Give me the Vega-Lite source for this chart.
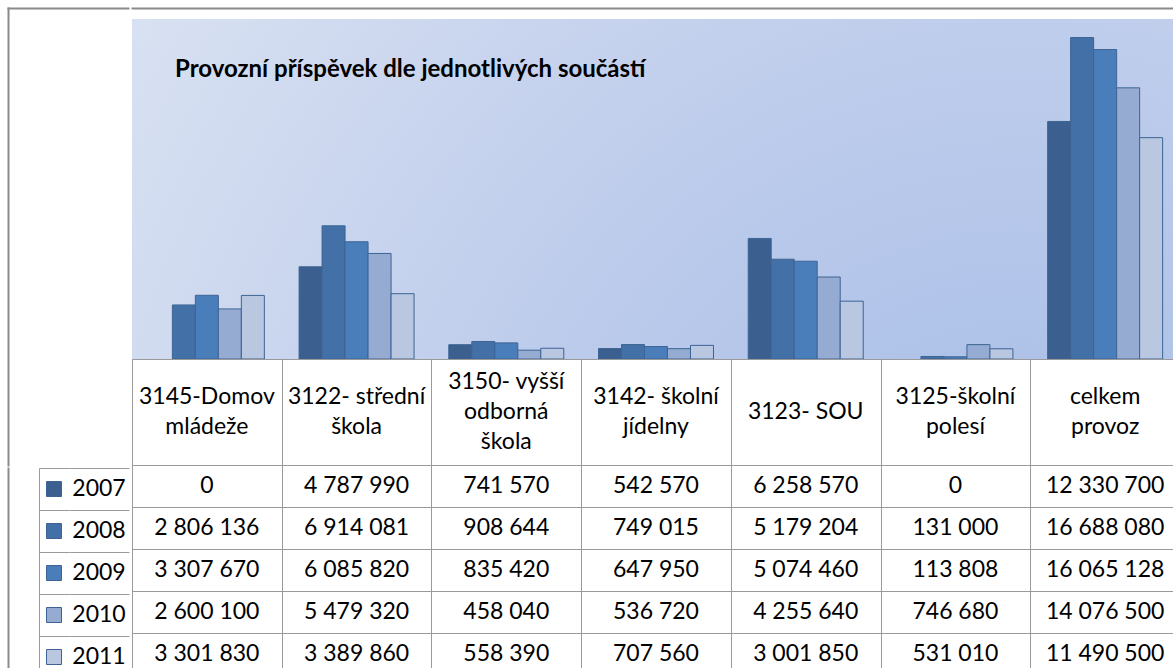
{
  "$schema": "https://vega.github.io/schema/vega-lite/v6.json",
  "padding": {"left": 5, "top": 8, "right": 0, "bottom": 0},
  "background": "white",
  "config": {
    "font": "Lato",
    "locale": {"number": {"decimal": ",", "thousands": " ", "grouping": [3], "currency": ["", " Kč"]}},
    "view": {"stroke": null},
    "concat": {"spacing": 0},
    "axis": {"gridColor": "#9a9a9a", "gridOpacity": 1, "gridWidth": 1, "domainColor": "#9a9a9a", "domainWidth": 1}
  },
  "datasets": {
    "vals": [
      {"cat": "3145-Domov mládeže", "year": "2007", "value": 0},
      {"cat": "3122- střední škola", "year": "2007", "value": 4787990},
      {"cat": "3150- vyšší odborná škola", "year": "2007", "value": 741570},
      {"cat": "3142- školní jídelny", "year": "2007", "value": 542570},
      {"cat": "3123- SOU", "year": "2007", "value": 6258570},
      {"cat": "3125-školní polesí", "year": "2007", "value": 0},
      {"cat": "celkem provoz", "year": "2007", "value": 12330700},
      {"cat": "3145-Domov mládeže", "year": "2008", "value": 2806136},
      {"cat": "3122- střední škola", "year": "2008", "value": 6914081},
      {"cat": "3150- vyšší odborná škola", "year": "2008", "value": 908644},
      {"cat": "3142- školní jídelny", "year": "2008", "value": 749015},
      {"cat": "3123- SOU", "year": "2008", "value": 5179204},
      {"cat": "3125-školní polesí", "year": "2008", "value": 131000},
      {"cat": "celkem provoz", "year": "2008", "value": 16688080},
      {"cat": "3145-Domov mládeže", "year": "2009", "value": 3307670},
      {"cat": "3122- střední škola", "year": "2009", "value": 6085820},
      {"cat": "3150- vyšší odborná škola", "year": "2009", "value": 835420},
      {"cat": "3142- školní jídelny", "year": "2009", "value": 647950},
      {"cat": "3123- SOU", "year": "2009", "value": 5074460},
      {"cat": "3125-školní polesí", "year": "2009", "value": 113808},
      {"cat": "celkem provoz", "year": "2009", "value": 16065128},
      {"cat": "3145-Domov mládeže", "year": "2010", "value": 2600100},
      {"cat": "3122- střední škola", "year": "2010", "value": 5479320},
      {"cat": "3150- vyšší odborná škola", "year": "2010", "value": 458040},
      {"cat": "3142- školní jídelny", "year": "2010", "value": 536720},
      {"cat": "3123- SOU", "year": "2010", "value": 4255640},
      {"cat": "3125-školní polesí", "year": "2010", "value": 746680},
      {"cat": "celkem provoz", "year": "2010", "value": 14076500},
      {"cat": "3145-Domov mládeže", "year": "2011", "value": 3301830},
      {"cat": "3122- střední škola", "year": "2011", "value": 3389860},
      {"cat": "3150- vyšší odborná škola", "year": "2011", "value": 558390},
      {"cat": "3142- školní jídelny", "year": "2011", "value": 707560},
      {"cat": "3123- SOU", "year": "2011", "value": 3001850},
      {"cat": "3125-školní polesí", "year": "2011", "value": 531010},
      {"cat": "celkem provoz", "year": "2011", "value": 11490500}
    ],
    "cats": [
      {"cat": "3145-Domov mládeže", "label": "\u200b|3145-Domov|\u200b|mládeže"},
      {"cat": "3122- střední škola", "label": "\u200b|3122- střední|\u200b|škola"},
      {"cat": "3150- vyšší odborná škola", "label": "3150- vyšší|\u200b|odborná|\u200b|škola"},
      {"cat": "3142- školní jídelny", "label": "\u200b|3142- školní|\u200b|jídelny"},
      {"cat": "3123- SOU", "label": "\u200b|\u200b|3123- SOU"},
      {"cat": "3125-školní polesí", "label": "\u200b|3125-školní|\u200b|polesí"},
      {"cat": "celkem provoz", "label": "\u200b|celkem|\u200b|provoz"}
    ],
    "years": [
      {"year": "2007"}, {"year": "2008"}, {"year": "2009"}, {"year": "2010"}, {"year": "2011"}
    ],
    "frame": [{"v": 0}]
  },
  "spacing": 0,
  "resolve": {"scale": {"x": "independent", "y": "independent"}},
  "hconcat": [
    {
      "spacing": 0,
      "resolve": {"scale": {"x": "independent", "y": "independent"}},
      "vconcat": [
        {
          "width": 120,
          "height": 457,
          "data": {"name": "frame"},
          "mark": {"type": "point", "opacity": 0},
          "encoding": {
            "x": {"field": "v", "type": "quantitative", "scale": {"domain": [0, 1]},
              "axis": {"orient": "top", "labels": false, "ticks": false, "grid": false, "domain": true, "domainColor": "#8a8a8a", "domainWidth": 2, "domainCap": "square", "title": null}},
            "y": {"field": "v", "type": "quantitative", "scale": {"domain": [0, 1]},
              "axis": {"orient": "left", "labels": false, "ticks": false, "grid": false, "domain": true, "domainColor": "#8a8a8a", "domainWidth": 2, "domainCap": "square", "title": null}}
          }
        },
        {
          "spacing": 0,
          "bounds": "flush",
          "resolve": {"scale": {"x": "independent", "y": "independent"}},
          "hconcat": [
            {
              "width": 31,
              "height": 210,
              "data": {"name": "years"},
              "mark": {"type": "point", "opacity": 0},
              "encoding": {
                "y": {"field": "year", "type": "nominal", "sort": ["2007", "2008", "2009", "2010", "2011"],
                  "scale": {"paddingInner": 0, "paddingOuter": 0},
                  "axis": {"grid": false, "labels": false, "ticks": false, "domain": true, "domainColor": "#8a8a8a", "domainWidth": 2, "domainCap": "square", "title": null}}
              }
            },
            {
              "width": 30,
              "height": 210,
              "data": {"name": "years"},
              "mark": {"type": "point", "shape": "square", "filled": true, "size": 225, "stroke": "#3d6494", "strokeWidth": 1, "opacity": 1},
              "encoding": {
                "y": {"field": "year", "type": "nominal", "sort": ["2007", "2008", "2009", "2010", "2011"],
                  "scale": {"paddingInner": 0, "paddingOuter": 0},
                  "axis": {"grid": true, "tickBand": "extent", "labels": false, "ticks": false, "domain": true, "title": null}},
                "color": {"field": "year", "type": "nominal",
                  "scale": {"domain": ["2007", "2008", "2009", "2010", "2011"], "range": ["#3b5f8e", "#4270a7", "#4a7ebb", "#95abd1", "#b9c7e1"]},
                  "legend": null}
              }
            },
            {
              "width": 60,
              "height": 210,
              "data": {"name": "years"},
              "mark": {"type": "text", "fontSize": 23, "color": "#000000"},
              "encoding": {
                "y": {"field": "year", "type": "nominal", "sort": ["2007", "2008", "2009", "2010", "2011"],
                  "scale": {"paddingInner": 0, "paddingOuter": 0},
                  "axis": {"grid": true, "tickBand": "extent", "labels": false, "ticks": false, "domain": false, "title": null}},
                "text": {"field": "year"}
              }
            }
          ]
        }
      ]
    },
    {
      "spacing": 0,
      "bounds": "flush",
      "resolve": {"scale": {"x": "independent", "y": "independent"}},
      "vconcat": [
        {
          "width": 1048,
          "height": 11,
          "data": {"name": "frame"},
          "mark": {"type": "point", "opacity": 0},
          "encoding": {
            "x": {"field": "v", "type": "quantitative", "scale": {"domain": [0, 1]},
              "axis": {"orient": "top", "labels": false, "ticks": false, "grid": false, "domain": true, "domainColor": "#8a8a8a", "domainWidth": 2, "domainCap": "square", "title": null}}
          }
        },
        {
          "width": 1048,
          "height": 340,
          "data": {"name": "vals"},
          "transform": [{"filter": "datum.value > 0"}],
          "view": {
            "stroke": null,
            "fill": {"gradient": "radial", "x1": 0.85, "y1": 0.9, "x2": 0.85, "y2": 0.9, "r1": 0, "r2": 1.1,
              "stops": [{"offset": 0, "color": "#a2bae6"}, {"offset": 0.5, "color": "#bfcdec"}, {"offset": 1, "color": "#dde5f3"}]}
          },
          "title": {"text": "Provozní příspěvek dle jednotlivých součástí", "anchor": "start", "frame": "group", "offset": -63, "dx": 43,
            "fontSize": 24, "fontWeight": "bold", "color": "#000000", "font": "Lato"},
          "mark": {"type": "bar", "stroke": "#3d6494", "strokeWidth": 1},
          "encoding": {
            "x": {"field": "cat", "type": "nominal",
              "sort": ["3145-Domov mládeže", "3122- střední škola", "3150- vyšší odborná škola", "3142- školní jídelny", "3123- SOU", "3125-školní polesí", "celkem provoz"],
              "scale": {"paddingInner": 0.232, "paddingOuter": 0.116}, "axis": null},
            "xOffset": {"field": "year", "type": "nominal",
              "scale": {"domain": ["2007", "2008", "2009", "2010", "2011"], "paddingInner": 0, "paddingOuter": 0}},
            "y": {"field": "value", "type": "quantitative", "scale": {"domain": [0, 17650000], "nice": false, "zero": true}, "axis": null},
            "color": {"field": "year", "type": "nominal",
              "scale": {"domain": ["2007", "2008", "2009", "2010", "2011"], "range": ["#3b5f8e", "#4270a7", "#4a7ebb", "#95abd1", "#b9c7e1"]},
              "legend": null}
          }
        },
        {
          "width": 1048,
          "height": 106,
          "data": {"name": "cats"},
          "view": {"stroke": "#9a9a9a", "strokeWidth": 1},
          "mark": {"type": "text", "lineBreak": "|", "fontSize": 23, "lineHeight": 15, "dy": -30, "color": "#000000", "baseline": "middle"},
          "encoding": {
            "x": {"field": "cat", "type": "nominal",
              "sort": ["3145-Domov mládeže", "3122- střední škola", "3150- vyšší odborná škola", "3142- školní jídelny", "3123- SOU", "3125-školní polesí", "celkem provoz"],
              "scale": {"paddingInner": 0, "paddingOuter": 0},
              "axis": {"grid": true, "tickBand": "extent", "labels": false, "ticks": false, "domain": false, "title": null}},
            "text": {"field": "label"}
          }
        },
        {
          "width": 1048,
          "height": 210,
          "data": {"name": "vals"},
          "view": {"stroke": "#9a9a9a", "strokeWidth": 1},
          "mark": {"type": "text", "fontSize": 23, "color": "#000000"},
          "encoding": {
            "x": {"field": "cat", "type": "nominal",
              "sort": ["3145-Domov mládeže", "3122- střední škola", "3150- vyšší odborná škola", "3142- školní jídelny", "3123- SOU", "3125-školní polesí", "celkem provoz"],
              "scale": {"paddingInner": 0, "paddingOuter": 0},
              "axis": {"grid": true, "tickBand": "extent", "labels": false, "ticks": false, "domain": false, "title": null}},
            "y": {"field": "year", "type": "nominal", "sort": ["2007", "2008", "2009", "2010", "2011"],
              "scale": {"paddingInner": 0, "paddingOuter": 0},
              "axis": {"grid": true, "tickBand": "extent", "labels": false, "ticks": false, "domain": false, "title": null}},
            "text": {"field": "value", "type": "quantitative", "format": ",d"}
          }
        }
      ]
    }
  ]
}
